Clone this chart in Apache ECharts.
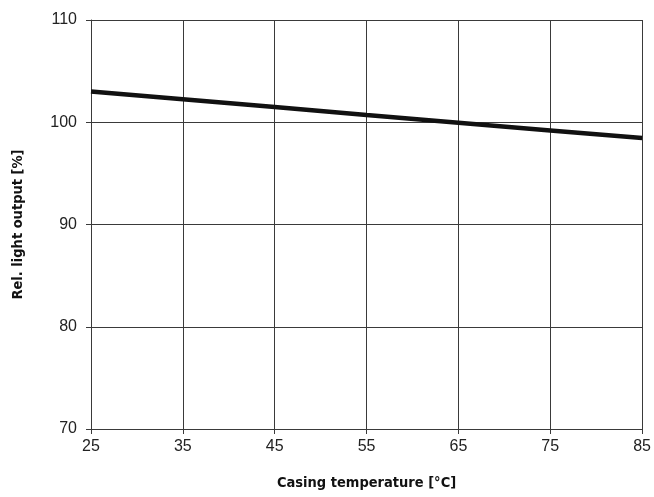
<!DOCTYPE html>
<html><head><meta charset="utf-8">
<script src="https://cdn.jsdelivr.net/npm/echarts@6/dist/echarts.min.js"></script>
<style>html,body{margin:0;padding:0;background:#fff}#c{width:654px;height:497px}</style>
</head><body><div id="c"></div>
<script>
const temps = [25, 35, 45, 55, 65, 75, 85];
const lightOutput = [103.0, 102.25, 101.5, 100.7, 99.95, 99.2, 98.45];
const xTicks = [25, 35, 45, 55, 65, 75, 85];
const yTicks = [70, 80, 90, 100, 110];

const chart = echarts.init(document.getElementById('c'));
const lineCol = '#3a3a3a';
const titleFont = {fontFamily: 'DejaVu Sans Condensed', fontWeight: 'bold', fontSize: 14.5, color: '#111'};
chart.setOption({
  animation: false,
  backgroundColor: '#fff',
  grid: {left: 91, right: 9, top: 20, bottom: 68},
  xAxis: {
    type: 'value', min: xTicks[0], max: xTicks[xTicks.length-1], interval: 10,
    name: 'Casing temperature [°C]', nameLocation: 'middle', nameGap: 47,
    nameTextStyle: titleFont,
    axisLine: {show: true, lineStyle: {color: lineCol, width: 1}},
    axisTick: {show: true, length: 5, lineStyle: {color: lineCol}},
    axisLabel: {margin: 10, fontFamily: 'Liberation Sans', fontSize: 16, color: '#222'},
    splitLine: {show: true, lineStyle: {color: lineCol, width: 1}}
  },
  yAxis: {
    type: 'value', min: yTicks[0], max: yTicks[yTicks.length-1], interval: 10,
    name: 'Rel. light output [%]', nameLocation: 'middle', nameGap: 65, nameRotate: 90,
    nameTextStyle: titleFont,
    axisLine: {show: true, lineStyle: {color: lineCol, width: 1}},
    axisTick: {show: true, length: 5, lineStyle: {color: lineCol}},
    axisLabel: {margin: 14, fontFamily: 'Liberation Sans', fontSize: 16, color: '#222'},
    splitLine: {show: true, lineStyle: {color: lineCol, width: 1}}
  },
  series: [{
    type: 'line', data: temps.map((t, i) => [t, lightOutput[i]]),
    showSymbol: false, smooth: false,
    lineStyle: {color: '#111', width: 4.5}
  }]
});
</script></body></html>
